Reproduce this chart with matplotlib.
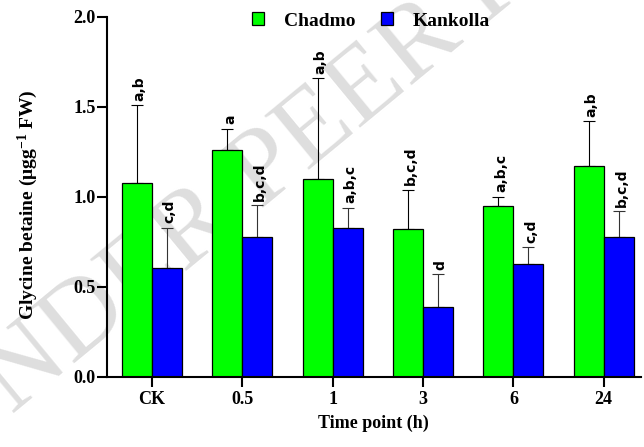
import matplotlib
matplotlib.use('Agg')
import matplotlib.pyplot as plt
import numpy as np

plt.rcParams['font.family'] = 'Liberation Serif'
plt.rcParams['font.weight'] = 'bold'
plt.rcParams['mathtext.fontset'] = 'custom'
plt.rcParams['mathtext.rm'] = 'Liberation Serif:bold'
plt.rcParams['mathtext.default'] = 'rm'

time_points = ['CK', '0.5', '1', '3', '6', '24']
chadmo_mean = [1.08, 1.26, 1.10, 0.82, 0.95, 1.17]
chadmo_err = [0.43, 0.12, 0.56, 0.22, 0.05, 0.25]
kankolla_mean = [0.605, 0.775, 0.83, 0.39, 0.63, 0.775]
kankolla_err = [0.225, 0.18, 0.11, 0.18, 0.09, 0.145]
chadmo_letters = ['a,b', 'a', 'a,b', 'b,c,d', 'a,b,c', 'a,b']
kankolla_letters = ['c,d', 'b,c,d', 'a,b,c', 'd', 'c,d', 'b,c,d']

fig = plt.figure(figsize=(6.44, 4.47), dpi=100)
ax = fig.add_axes([0.166, 0.1566, 0.829, 0.8054])

# watermark, kept under the axes
fig.text(-0.075, -0.04, 'UNDER PEER REVIEW', fontsize=78, color='#dedede',
         fontweight='normal', rotation=39.5, rotation_mode='anchor',
         ha='left', va='baseline', zorder=-1)

x = np.arange(len(time_points))
w = 0.332
ax.bar(x - w / 2, chadmo_mean, w, color='#00ff00', edgecolor='black',
       linewidth=0.9, label='Chadmo', zorder=2)
ax.bar(x + w / 2, kankolla_mean, w, color='#0000ff', edgecolor='black',
       linewidth=0.9, label='Kankolla', zorder=2)
ax.errorbar(x - w / 2, chadmo_mean, yerr=[np.zeros(6), chadmo_err], fmt='none',
            ecolor='black', elinewidth=0.8, capsize=4.3, capthick=0.8, zorder=1)
ax.errorbar(x + w / 2, kankolla_mean, yerr=[np.zeros(6), kankolla_err], fmt='none',
            ecolor='#333333', elinewidth=0.8, capsize=4.3, capthick=0.8, zorder=1)

for i in range(len(x)):
    ax.text(x[i] - w / 2 + 0.03, chadmo_mean[i] + chadmo_err[i] + 0.025, chadmo_letters[i],
            rotation=90, ha='center', va='bottom', fontsize=10,
            family='DejaVu Sans', fontweight='bold')
    ax.text(x[i] + w / 2 + 0.03, kankolla_mean[i] + kankolla_err[i] + 0.025, kankolla_letters[i],
            rotation=90, ha='center', va='bottom', fontsize=10,
            family='DejaVu Sans', fontweight='bold')

ax.set_xlim(-0.5, 5.41)
ax.set_ylim(0, 2.0)
ax.set_yticks([0, 0.5, 1.0, 1.5, 2.0])
ax.set_yticklabels(['0.0', '0.5', '1.0', '1.5', '2.0'], fontsize=13, fontweight='bold')
ax.set_xticks(x)
ax.set_xticklabels(time_points, fontsize=13, fontweight='bold')
ax.spines['top'].set_visible(False)
ax.spines['right'].set_visible(False)
ax.spines['left'].set_linewidth(1.5)
ax.spines['bottom'].set_linewidth(1.5)
ax.tick_params(axis='both', width=1.5, length=7, direction='out')
ax.tick_params(axis='y', pad=1)
ax.tick_params(axis='x', pad=3)
ax.patch.set_alpha(0)

ax.set_xlabel('Time point (h)', fontsize=13, fontweight='bold', labelpad=5)
ax.set_ylabel('Glycine betaine (μgg$^{-1}$ FW)', fontsize=14, fontweight='bold')
ax.yaxis.set_label_coords(-0.125, 0.478)

fig.legend(loc='center left', bbox_to_anchor=(252 / 644, 1 - 21 / 447), ncol=2,
           frameon=False, fontsize=14, handlelength=0.6, handleheight=0.6,
           handletextpad=1.05, columnspacing=1.3, borderpad=0, borderaxespad=0)

fig.savefig('out.png', dpi=100)
